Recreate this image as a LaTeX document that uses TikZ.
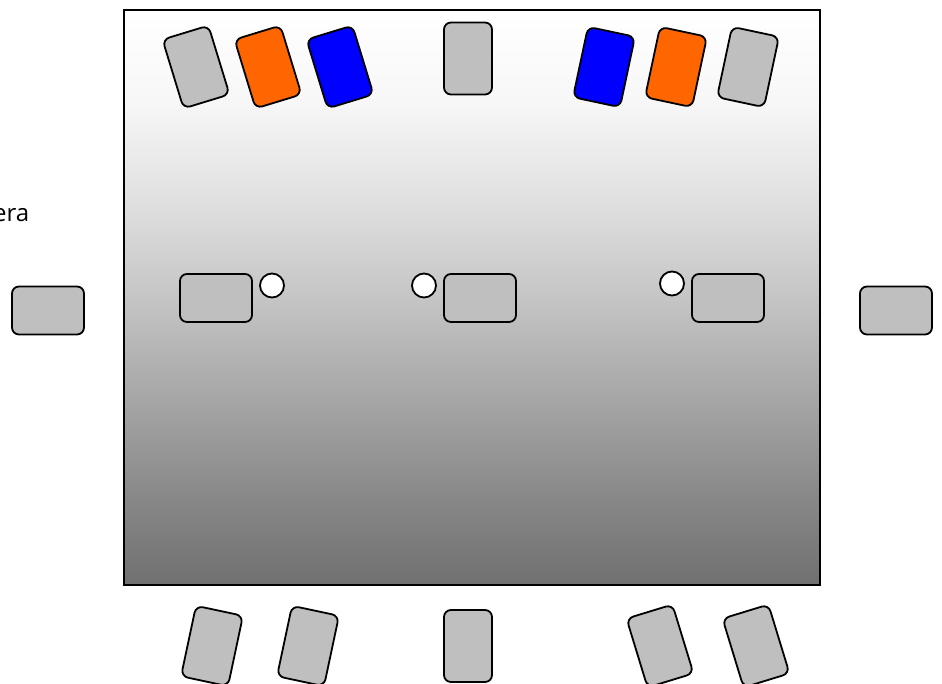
\documentclass[tikz,border=0pt]{standalone}
\usepackage{fontspec}
\setmainfont{Open Sans}
\definecolor{seatgrey}{HTML}{BFBFBF}
\definecolor{seatorange}{HTML}{FF6600}
\definecolor{seatblue}{HTML}{0000FF}
\pgfdeclareverticalshading{roomshade}{100bp}{
  color(0bp)=(black!56);
  color(25bp)=(black!56);
  color(32.4bp)=(black!47);
  color(41.1bp)=(black!35);
  color(49.8bp)=(black!23);
  color(58.5bp)=(black!12);
  color(67.2bp)=(black!3);
  color(75bp)=(white);
  color(100bp)=(white)}
\tikzset{
  seat/.style={draw=black,line width=1.8pt,rounded corners=7pt,fill=seatgrey,inner sep=0pt,outer sep=0pt,minimum width=48pt,minimum height=72pt},
  wide/.style={seat,minimum width=72pt,minimum height=48pt},
  dot/.style={circle,draw=black,line width=1.8pt,fill=white,inner sep=0pt,minimum size=24pt},
  room/.style={draw=black,line width=2pt,shading=roomshade,inner sep=0pt,outer sep=0pt,minimum width=696pt,minimum height=575pt}
}
\begin{document}
\begin{tikzpicture}[x=1pt,y=-1pt]
\useasboundingbox (0,0) rectangle (942,684);
\node[room] (room) at (472,297.5) {};
\node[seat,rotate=17] (t1) at (196,67) {};
\node[seat,rotate=17,fill=seatorange] (t2) at (268,67) {};
\node[seat,rotate=17,fill=seatblue] (t3) at (340,67) {};
\node[seat] (t4) at (468,58.5) {};
\node[seat,rotate=-12,fill=seatblue] (t5) at (604,67) {};
\node[seat,rotate=-12,fill=seatorange] (t6) at (676,67) {};
\node[seat,rotate=-12] (t7) at (748,67) {};
\node[seat,rotate=-12] (b1) at (212,646) {};
\node[seat,rotate=-12] (b2) at (308,646) {};
\node[seat] (b3) at (468,646) {};
\node[seat,rotate=17] (b4) at (660,646) {};
\node[seat,rotate=17] (b5) at (756,646) {};
\node[wide] (l) at (48,310.5) {};
\node[wide] (m1) at (216,298) {};
\node[wide] (m2) at (480,298) {};
\node[wide] (m3) at (728,298) {};
\node[wide] (r) at (896,310.5) {};
\node[dot] (d1) at (272,285.5) {};
\node[dot] (d2) at (424,285.5) {};
\node[dot] (d3) at (672,283.5) {};
\node[anchor=base east,inner sep=0pt,font=\fontsize{24pt}{28pt}\selectfont] (cap) at (29.5,221.5) {era};
\end{tikzpicture}
\end{document}
